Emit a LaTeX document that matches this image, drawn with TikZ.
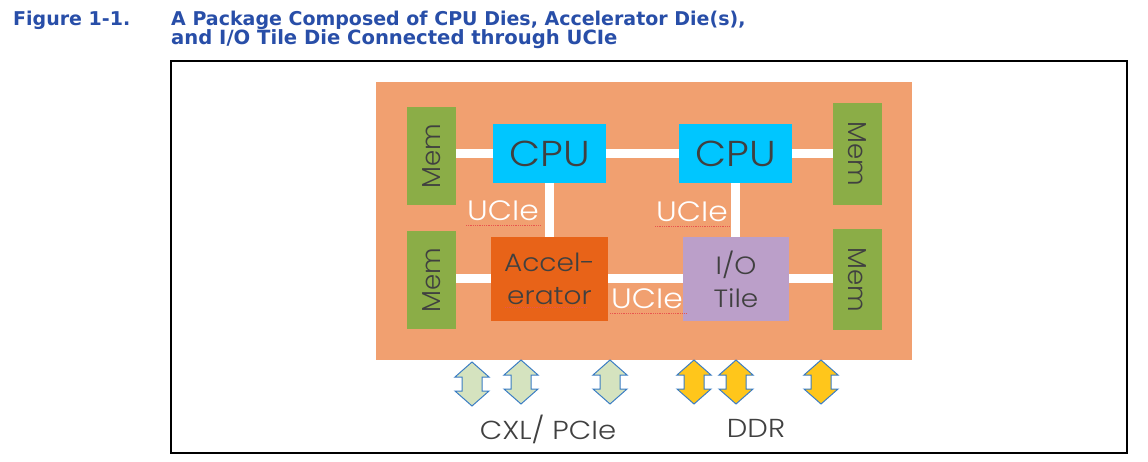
\documentclass[tikz,border=0pt]{standalone}
\usepackage{fontspec}
\newfontfamily\titlefont{DejaVu Sans}[BoldFont={DejaVu Sans Bold}]
\newfontfamily\diagfont{Poppins Light}[FakeStretch=1.12]
\newfontfamily\memfont{Poppins Light}
\usetikzlibrary{calc}
\definecolor{titleblue}{RGB}{40,78,168}
\definecolor{pkgorange}{HTML}{F1A070}
\definecolor{memgreen}{HTML}{8BAD47}
\definecolor{cpucyan}{HTML}{00C6FF}
\definecolor{accorange}{HTML}{E86318}
\definecolor{iopurple}{HTML}{BB9FC9}
\definecolor{txtgray}{HTML}{404040}
\definecolor{arrowblue}{HTML}{3B7DC4}
\definecolor{arrgreen}{HTML}{D5E3BF}
\definecolor{arryellow}{HTML}{FFC61B}
\definecolor{squiggle}{HTML}{E8554E}
\tikzset{
  titletext/.style={font=\titlefont\bfseries\fontsize{19}{19}\selectfont, text=titleblue, inner sep=0pt, anchor=base west},
  die/.style={draw=none, inner sep=0pt, text=txtgray, font=\diagfont\fontsize{25}{33}\selectfont, align=center},
  memdie/.style={die, fill=memgreen, minimum width=49pt, minimum height=98pt, font=\memfont\fontsize{26}{30}\selectfont},
  cpudie/.style={die, fill=cpucyan, minimum width=113pt, minimum height=59pt, font=\diagfont\fontsize{36}{40}\selectfont},
  link/.style={draw=white, line width=9pt},
  ucie/.style={inner sep=0pt, text=white, font=\diagfont\fontsize{28}{30}\selectfont},
  spell/.style={draw=squiggle, line width=0.8pt, densely dotted},
  dblarrow/.style={draw=arrowblue, line width=1pt, line join=miter},
  biglabel/.style={inner sep=0pt, text=txtgray, font=\diagfont\fontsize{26}{30}\selectfont}
}
\newcommand{\dieArrow}[3]{%
  \draw[dblarrow, fill=#3] (#1,#2) ++(0,-22) -- ++(17,15) -- ++(-7,0) -- ++(0,14) -- ++(7,0)
     -- ++(-17,15) -- ++(-17,-15) -- ++(7,0) -- ++(0,-14) -- ++(-7,0) -- cycle;}
\begin{document}
\begin{tikzpicture}[x=1pt,y=-1pt]
\useasboundingbox (0,0) rectangle (1148,462);
\fill[white] (0,0) rectangle (1148,462);
% title
\node[titletext] (figno) at (13,26) {Figure 1-1.};
\node[titletext] (title1) at (171,26) {A Package Composed of CPU Dies, Accelerator Die(s),};
\node[titletext, font=\titlefont\bfseries\fontsize{19.6}{19}\selectfont] (title2) at (171,45) {and I/O Tile Die Connected through UCIe};
% frame
\node[draw=black, line width=1.5pt, minimum width=956pt, minimum height=392pt, inner sep=0pt] (frame) at (649,257) {};
% package
\node[fill=pkgorange, minimum width=536pt, minimum height=278pt, inner sep=0pt] (pkg) at (644,221) {};
\coordinate (cL) at (549.5,153.5);
\coordinate (cR) at (735.5,153.5);
% dies
\node[memdie] (memL1) at (431.5,156) {\rotatebox{90}{Mem}};
\node[memdie] (memL2) at (431.5,280) {\rotatebox{90}{Mem}};
\node[memdie, minimum height=102pt] (memR1) at (857.5,154) {\rotatebox{-90}{Mem}};
\node[memdie, minimum height=101pt] (memR2) at (857.5,279.5) {\rotatebox{-90}{Mem}};
\node[cpudie] (cpuL) at (cL) {CPU};
\node[cpudie] (cpuR) at (cR) {CPU};
\node[die, fill=accorange, minimum width=117pt, minimum height=84pt] (acc) at (549.5,279) {Accel-\\erator};
\node[die, fill=iopurple, minimum width=106pt, minimum height=84pt] (io) at (736,279) {I/O\\Tile};
% links
\draw[link] (cpuL.west) -- (cpuL.west -| memL1.east);
\draw[link] (cpuL.east) -- (cpuR.west);
\draw[link] (cpuR.east) -- (cpuR.east -| memR1.west);
\draw[link] (cpuL.south) -- (acc.north);
\draw[link] (cpuR.south) -- (io.north -| cpuR.south);
\draw[link] (acc.west) -- (acc.west -| memL2.east);
\draw[link] (acc.east) -- (io.west);
\draw[link] (io.east) -- (io.east -| memR2.west);
% UCIe labels
\node[ucie] (uc1) at (503,211) {UCIe};
\node[ucie] (uc2) at (692,212) {UCIe};
\node[ucie] (uc3) at (647,299) {UCIe};
\draw[spell] ($(uc1.south west)+(-1,4)$) -- ($(uc1.south east)+(1,4)$);
\draw[spell] ($(uc2.south west)+(-1,4)$) -- ($(uc2.south east)+(1,4)$);
\draw[spell] ($(uc3.south west)+(-1,4)$) -- ($(uc3.south east)+(3,4)$);
\coordinate (er1) at (505,307);
\coordinate (er2) at (587,307);
\draw[spell] (er1) -- (er2);
% arrows
\dieArrow{472}{384}{arrgreen}
\dieArrow{521}{382}{arrgreen}
\dieArrow{610}{382}{arrgreen}
\dieArrow{694}{382}{arryellow}
\dieArrow{736}{382}{arryellow}
\dieArrow{821}{382}{arryellow}
% bottom labels
\node[biglabel] (cxl) at (548,429) {CXL/ PCIe};
\node[biglabel] (ddr) at (756,428) {DDR};
\end{tikzpicture}
\end{document}
